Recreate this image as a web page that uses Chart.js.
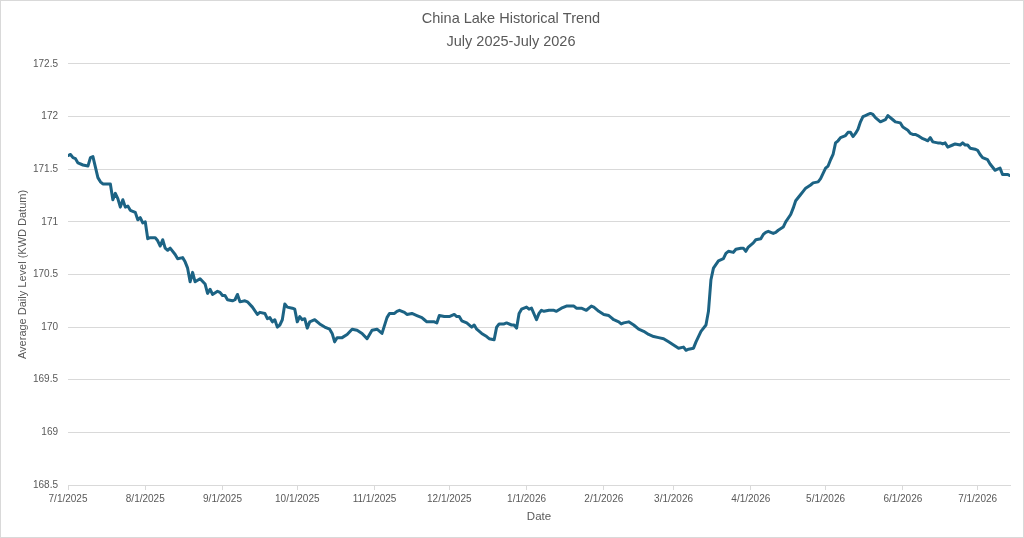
<!DOCTYPE html>
<html>
<head>
<meta charset="utf-8">
<script src="https://cdn.jsdelivr.net/npm/chart.js@4.4.1/dist/chart.umd.min.js"></script>
<style>
  html, body { margin: 0; padding: 0; background: #fff; }
  #wrap { width: 1024px; height: 538px; }
</style>
</head>
<body>
<div id="wrap"><canvas id="lake-chart" width="1024" height="538"></canvas></div>
<script>
// days counted from 7/1/2025
var days = [0,1,2,3,4,6,8,9,10,11,12,13,14,17,18,19,20,21,22,23,24,25,26,27,28,29,30,31,32,33,35,36,37,38,39,40,41,43,44,46,47,48,49,50,51,53,55,56,57,58,60,61,62,63,64,66,67,68,69,71,72,74,76,77,79,80,81,82,83,84,85,86,87,88,90,91,92,93,94,95,96,97,99,101,103,105,106,107,108,110,112,114,116,118,120,122,124,126,128,129,131,132,133,135,136,138,140,142,143,144,147,148,149,151,153,155,156,157,158,160,162,163,164,166,168,169,171,172,173,175,176,178,179,180,181,182,184,185,186,188,189,190,191,193,195,196,198,200,203,204,206,208,210,211,213,215,217,218,219,221,222,223,225,227,229,231,233,235,237,239,241,243,245,247,248,249,251,252,254,256,257,258,259,261,263,264,265,267,268,270,271,272,273,275,276,278,279,280,281,283,284,285,287,288,290,291,292,294,295,296,298,299,301,302,303,304,305,306,307,308,309,310,312,313,314,315,316,317,318,319,320,321,322,323,324,326,328,329,331,332,334,335,337,338,339,340,341,343,344,345,346,347,349,350,351,352,353,355,356,358,359,360,361,362,364,365,366,367,369,370,372,373,374,375,377,378];
var levels = [171.63,171.64,171.61,171.60,171.56,171.54,171.53,171.61,171.62,171.52,171.42,171.38,171.36,171.36,171.21,171.27,171.22,171.14,171.21,171.14,171.15,171.11,171.10,171.09,171.02,171.04,170.99,171.00,170.84,170.85,170.85,170.82,170.77,170.83,170.75,170.73,170.75,170.69,170.65,170.66,170.62,170.56,170.43,170.52,170.43,170.46,170.41,170.32,170.36,170.31,170.34,170.33,170.30,170.30,170.26,170.25,170.26,170.31,170.24,170.25,170.24,170.19,170.12,170.14,170.13,170.08,170.09,170.05,170.07,170.00,170.02,170.07,170.22,170.19,170.18,170.17,170.05,170.10,170.07,170.08,169.99,170.05,170.07,170.03,170.00,169.98,169.94,169.86,169.90,169.90,169.93,169.98,169.97,169.94,169.89,169.97,169.98,169.94,170.09,170.13,170.13,170.15,170.16,170.14,170.12,170.13,170.11,170.09,170.07,170.05,170.05,170.04,170.11,170.10,170.10,170.12,170.10,170.10,170.06,170.04,170.00,170.02,169.98,169.94,169.91,169.89,169.88,170.00,170.03,170.03,170.04,170.02,170.02,169.99,170.13,170.17,170.19,170.17,170.18,170.07,170.13,170.16,170.15,170.16,170.16,170.15,170.18,170.20,170.20,170.18,170.18,170.16,170.20,170.19,170.15,170.12,170.11,170.09,170.07,170.05,170.03,170.04,170.05,170.02,169.98,169.96,169.93,169.91,169.90,169.89,169.86,169.83,169.80,169.81,169.78,169.79,169.80,169.86,169.96,170.02,170.15,170.45,170.56,170.63,170.65,170.70,170.72,170.71,170.74,170.75,170.75,170.72,170.76,170.80,170.83,170.84,170.88,170.90,170.91,170.89,170.90,170.92,170.95,171.00,171.07,171.13,171.20,171.26,171.29,171.32,171.35,171.37,171.38,171.41,171.46,171.51,171.53,171.59,171.64,171.75,171.77,171.80,171.82,171.85,171.85,171.81,171.84,171.88,171.95,172.00,172.01,172.02,172.03,172.02,171.99,171.95,171.97,172.01,171.97,171.95,171.94,171.90,171.87,171.84,171.83,171.83,171.82,171.79,171.78,171.77,171.80,171.76,171.75,171.75,171.74,171.75,171.71,171.73,171.74,171.73,171.75,171.73,171.73,171.70,171.69,171.68,171.64,171.61,171.59,171.55,171.49,171.50,171.51,171.45,171.45,171.44];

var tickDays = [0,31,62,92,123,153,184,215,243,274,304,335,365];
var tickLabels = ['7/1/2025','8/1/2025','9/1/2025','10/1/2025','11/1/2025','12/1/2025','1/1/2026','2/1/2026','3/1/2026','4/1/2026','5/1/2026','6/1/2026','7/1/2026'];

var chartTitle = ['China Lake Historical Trend', 'July 2025-July 2026'];
var xTitle = 'Date';
var yTitle = 'Average Daily Level (KWD Datum)';

var textGrey = '#595959';
var gridGrey = '#d9d9d9';
var lineBlue = '#1c6384';
var fontFamily = "'Liberation Sans Narrow', 'Liberation Sans', sans-serif";

var points = days.map(function(d, i) { return { x: d, y: levels[i] }; });

var frame = {
  id: 'frame',
  beforeDraw: function(chart) {
    var c = chart.ctx;
    c.save();
    c.fillStyle = '#fff';
    c.fillRect(0, 0, chart.width, chart.height);
    c.strokeStyle = gridGrey;
    c.lineWidth = 1;
    c.strokeRect(0.5, 0.5, chart.width - 1, chart.height - 1);
    c.restore();
  }
};

var ctx = document.getElementById('lake-chart').getContext('2d');
new Chart(ctx, {
  type: 'line',
  data: {
    datasets: [{
      label: 'Level',
      data: points,
      borderColor: lineBlue,
      backgroundColor: lineBlue,
      borderWidth: 3,
      pointRadius: 0,
      tension: 0,
      borderJoinStyle: 'round',
      borderCapStyle: 'round'
    }]
  },
  options: {
    responsive: false,
    animation: false,
    layout: { padding: { left: 12, right: 14, top: 0, bottom: 8 } },
    scales: {
      x: {
        type: 'linear',
        min: 0,
        max: 378,
        afterBuildTicks: function(scale) {
          scale.ticks = tickDays.map(function(v) { return { value: v }; });
        },
        afterFit: function(scale) { scale.height = 45; },
        grid: { display: true, drawOnChartArea: false, drawTicks: true, tickLength: 5, color: gridGrey },
        border: { display: true, color: gridGrey },
        ticks: {
          color: textGrey,
          font: { family: fontFamily, size: 10 },
          padding: 3,
          maxRotation: 0,
          minRotation: 0,
          autoSkip: false,
          callback: function(value) {
            var i = tickDays.indexOf(value);
            return i >= 0 ? tickLabels[i] : '';
          }
        },
        title: {
          display: true,
          text: xTitle,
          color: textGrey,
          font: { family: fontFamily, size: 11.5 },
          padding: { top: 4, bottom: 6 }
        }
      },
      y: {
        min: 168.5,
        max: 172.5,
        afterFit: function(scale) { scale.width = 56; },
        grid: { color: gridGrey, drawTicks: false },
        border: { display: false },
        ticks: {
          stepSize: 0.5,
          color: textGrey,
          font: { family: fontFamily, size: 10 },
          padding: 10,
          callback: function(value) { return String(Math.round(value * 10) / 10); }
        },
        title: {
          display: true,
          text: yTitle,
          color: textGrey,
          font: { family: fontFamily, size: 11 },
          padding: { top: 4, bottom: 4 }
        }
      }
    },
    plugins: {
      legend: { display: false },
      tooltip: { enabled: false },
      title: {
        display: true,
        text: chartTitle,
        color: textGrey,
        font: { family: fontFamily, size: 14.5, weight: 'normal', lineHeight: 1.55 },
        padding: { top: 8, bottom: 11 }
      }
    }
  },
  plugins: [frame]
});
</script>
</body>
</html>
